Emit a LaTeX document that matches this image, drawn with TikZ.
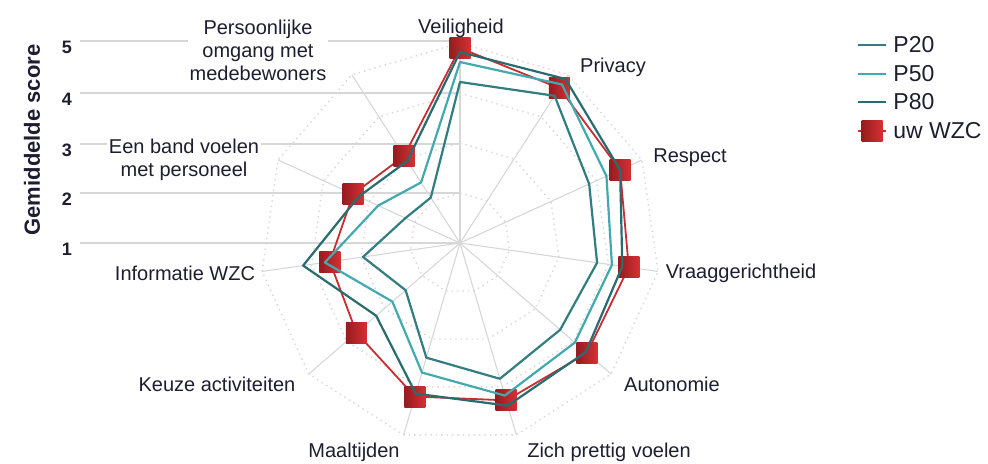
\documentclass[tikz,border=0pt]{standalone}
\usepackage{fontspec}
\setmainfont{Liberation Sans}
\usepackage{xcolor}
\usepackage{tikz}
\usetikzlibrary{shapes,arrows,positioning,calc}

\definecolor{wzcred}{RGB}{200,45,50}
\definecolor{markdark}{RGB}{150,28,32}
\definecolor{marklight}{RGB}{212,48,52}
\definecolor{ptwenty}{RGB}{49,125,128}
\definecolor{pfifty}{RGB}{66,170,175}
\definecolor{peighty}{RGB}{40,108,112}
\definecolor{gridgray}{RGB}{215,215,215}
\definecolor{txt}{RGB}{30,30,48}

\begin{document}
\begin{tikzpicture}[x=0.5pt, y=-0.5pt,
    grid/.style={gridgray, line width=0.55pt},
    ring/.style={gridgray, line width=0.7pt, dotted},
    axlabel/.style={font=\fontsize{10}{11.5}\selectfont, text=txt, fill=white, inner sep=1pt, align=center},
    ticklab/.style={font=\bfseries\fontsize{9}{10}\selectfont, text=txt},
    series/.style={line width=1.1pt, line join=round},
    wzcline/.style={wzcred, line width=0.9pt, line join=round},
    wzcmark/.style={draw=none, left color=markdark, right color=marklight, minimum size=10.5pt, inner sep=0pt},
    legtext/.style={font=\fontsize{11.5}{14}\selectfont, text=txt, anchor=west, inner sep=0pt}]
    \useasboundingbox (0,0) rectangle (988,463);
    \coordinate (c) at (460,243);

    % value axis on the left
    \node[rotate=90, font=\bfseries\fontsize{11}{13}\selectfont, text=txt] (ytitle) at (32,140) {Gemiddelde score};
    \foreach \v/\yy in {1/243,2/193,3/144,4/93,5/41} {
        \coordinate (h\v) at (80,\yy);
        \draw[grid] (h\v) -- (h\v -| c);
        \node[ticklab] (tick\v) at (67,\yy+6) {\v};
    }

    % axis labels
    \node[axlabel] (veil) at (461,28) {Veiligheid};
    \node[axlabel] (priv) at (613,67) {Privacy};
    \node[axlabel] (resp) at (690,158) {Respect};
    \node[axlabel] (vraag) at (741,273) {Vraaggerichtheid};
    \node[axlabel] (auto) at (672,384) {Autonomie};
    \node[axlabel] (zich) at (609,452) {Zich prettig voelen};
    \node[axlabel] (maal) at (354,452) {Maaltijden};
    \node[axlabel] (keuze) at (217,384) {Keuze activiteiten};
    \node[axlabel] (info) at (185,273) {Informatie WZC};
    \node[axlabel] (band) at (184,160) {Een band voelen\\met personeel};
    \node[axlabel] (pers) at (258,50) {Persoonlijke\\omgang met\\medebewoners};

    \begin{scope}[shift={(460,243)}]
        % web
        \foreach \k in {0,...,10}
            \draw[grid] (0,0) -- ({\k*360/11-90}:200) coordinate (ax\k);
        \foreach \r in {50,100,150,200}
            \draw[ring] (-90:\r) \foreach \k in {1,...,10} {-- ({\k*360/11-90}:\r)} -- cycle;

        % series points
        \foreach \v [count=\k from 0] in {4.90,4.68,4.52,4.41,4.36,4.28,4.20,3.74,3.63,3.35,3.07}
            \coordinate (wzc\k) at ({\k*360/11-90}:{(\v-1)*50});
        \foreach \v [count=\k from 0] in {4.22,4.50,3.84,3.77,3.65,3.83,3.39,2.44,2.96,2.20,2.08}
            \coordinate (pa\k) at ({\k*360/11-90}:{(\v-1)*50});
        \foreach \v [count=\k from 0] in {4.62,4.77,4.22,4.07,4.04,4.18,3.70,2.79,3.73,2.80,2.44}
            \coordinate (pb\k) at ({\k*360/11-90}:{(\v-1)*50});
        \foreach \v [count=\k from 0] in {4.82,4.90,4.52,4.28,4.33,4.39,4.14,3.22,4.17,3.23,2.95}
            \coordinate (pc\k) at ({\k*360/11-90}:{(\v-1)*50});
    \end{scope}

    % uw WZC
    \draw[wzcline] (wzc0) \foreach \k in {1,...,10} {-- (wzc\k)} -- cycle;
    \foreach \k in {0,...,10}
        \node[wzcmark] (m\k) at (wzc\k) {};

    % percentiles on top
    \draw[series, ptwenty] (pa0) \foreach \k in {1,...,10} {-- (pa\k)} -- cycle;
    \draw[series, pfifty] (pb0) \foreach \k in {1,...,10} {-- (pb\k)} -- cycle;
    \draw[series, peighty] (pc0) \foreach \k in {1,...,10} {-- (pc\k)} -- cycle;

    % legend
    \foreach \n/\col/\yy in {P20/ptwenty/45,P50/pfifty/74,P80/peighty/102} {
        \coordinate (la\n) at (858,\yy);
        \coordinate (lb\n) at (886,\yy);
        \draw[series, \col] (la\n) -- (lb\n);
        \node[legtext] (t\n) at (893,\yy) {\n};
    }
    \coordinate (laW) at (858,131);
    \coordinate (lbW) at (886,131);
    \draw[wzcline] (laW) -- (lbW);
    \node[wzcmark] (lmW) at ($(laW)!0.5!(lbW)$) {};
    \node[legtext] (tW) at (893,131) {uw WZC};
\end{tikzpicture}
\end{document}
